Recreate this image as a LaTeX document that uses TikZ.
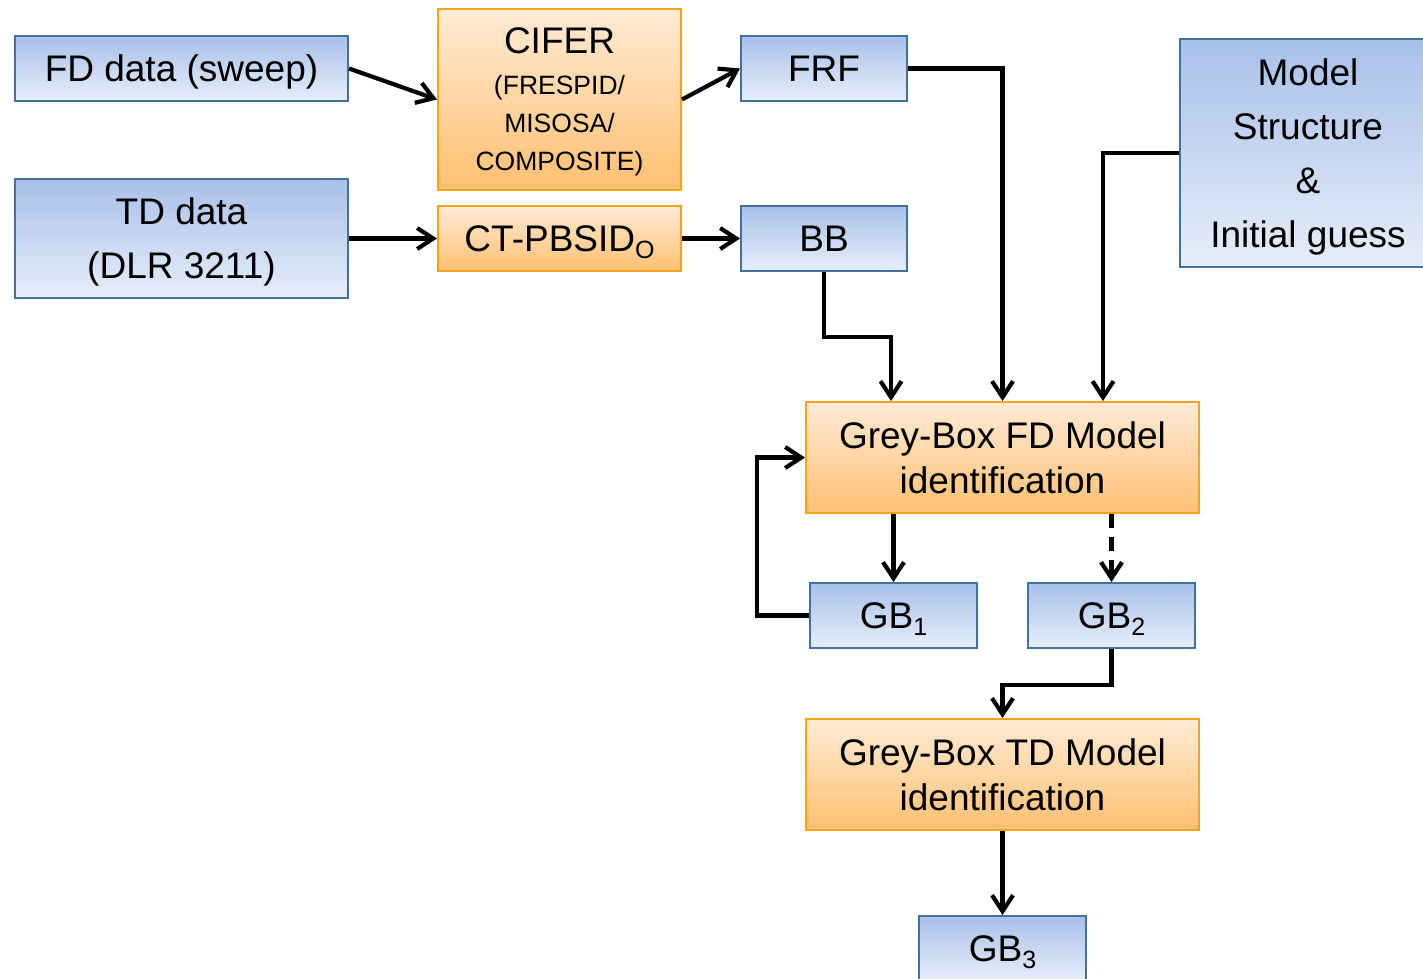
\documentclass[tikz,border=0pt]{standalone}
\usepackage{fontspec}
\setmainfont{Liberation Sans}
\usetikzlibrary{arrows.meta}

\definecolor{bluetop}{HTML}{A8C0E9}
\definecolor{bluebot}{HTML}{E7EEFA}
\definecolor{blueedge}{HTML}{41719C}
\definecolor{orangetop}{HTML}{FFEBD6}
\definecolor{orangebot}{HTML}{FFC071}
\definecolor{orangeedge}{HTML}{F8A31C}

% lowered small index after a label
\newcommand\lowsub[1]{\raisebox{-7pt}{\fontsize{25}{25}\selectfont #1}}

\tikzset{
  box/.style={rectangle, inner sep=0pt, anchor=north west, line width=2pt,
    align=center, text=black, text depth=0pt, font=\fontsize{37}{54}\selectfont},
  bluebox/.style={box, draw=blueedge, top color=bluetop, bottom color=bluebot},
  orangebox/.style={box, draw=orangeedge, top color=orangetop, bottom color=orangebot},
  flow/.style={line width=4.2pt, draw=black, -{Straight Barb[length=16pt,width=21pt]}},
}

\begin{document}
\begin{tikzpicture}[x=1pt, y=-1pt]
\useasboundingbox (0,0) rectangle (1423,978);
\clip (0,0) rectangle (1423,978);
\fill[white] (0,0) rectangle (1423,978);

% data sources and pre-processing
\node[bluebox, minimum width=333pt, minimum height=65pt] (fd) at (14,35) {FD data (sweep)};
\node[bluebox, minimum width=333pt, minimum height=119pt] (td) at (14,178) {TD data\\(DLR 3211)};
\node[orangebox, minimum width=243pt, minimum height=181pt,
      font=\fontsize{26.5}{38}\selectfont] (cifer) at (437,8)
      {{\fontsize{37}{37}\selectfont CIFER}\\[3pt](FRESPID/\\MISOSA/\\COMPOSITE)};
\node[orangebox, minimum width=243pt, minimum height=65pt] (ct) at (437,205) {CT-PBSID\lowsub{O}};
\node[bluebox, minimum width=166pt, minimum height=65pt] (frf) at (740,35) {FRF};
\node[bluebox, minimum width=166pt, minimum height=65pt] (bb) at (740,205) {BB};
\node[bluebox, minimum width=256pt, minimum height=228pt] (model) at (1179,38)
      {Model\\Structure\\\&\\Initial guess};

% identification stages
\node[orangebox, minimum width=393pt, minimum height=111pt,
      font=\fontsize{37}{45}\selectfont] (gbfd) at (805,401) {Grey-Box FD Model\\identification};
\node[bluebox, minimum width=167pt, minimum height=65pt] (gb1) at (809,582) {GB\lowsub{1}};
\node[bluebox, minimum width=167pt, minimum height=65pt] (gb2) at (1027,582) {GB\lowsub{2}};
\node[orangebox, minimum width=393pt, minimum height=111pt,
      font=\fontsize{37}{45}\selectfont] (gbtd) at (805,718) {Grey-Box TD Model\\identification};
\node[bluebox, minimum width=167pt, minimum height=65pt] (gb3) at (918,915) {GB\lowsub{3}};

% connectors
\draw[flow] (fd.east) -- (cifer.west);
\draw[flow] (td.east) -- (ct.west);
\draw[flow] (cifer.east) -- (frf.west);
\draw[flow] (ct.east) -- (bb.west);
\draw[flow] (frf.east) -| (gbfd.north);
\draw[flow] (bb.south) -- ++(0,65) -| ([xshift=86pt]gbfd.north west);
\draw[flow] (model.west) -| ([xshift=298pt]gbfd.north west);
\draw[flow] (gb1.north |- gbfd.south) -- (gb1.north);
\draw[flow, dash pattern=on 14pt off 9pt] (gb2.north |- gbfd.south) -- (gb2.north);
\draw[flow] (gb1.west) -- ++(-52,0) |- (gbfd.west);
\draw[flow] (gb2.south) -- ++(0,36) -| (gbtd.north);
\draw[flow] (gbtd.south) -- (gb3.north);
\end{tikzpicture}
\end{document}
